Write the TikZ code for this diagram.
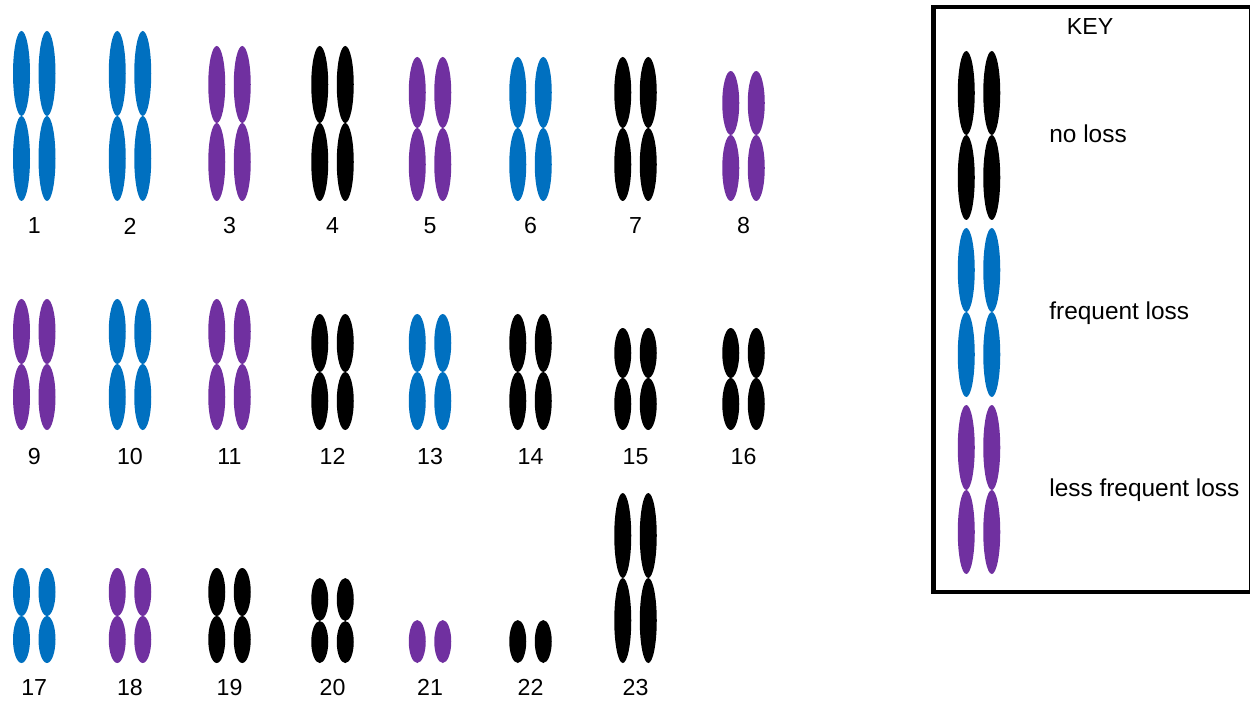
\documentclass[tikz,border=0pt]{standalone}
\usepackage{fontspec}
\setmainfont{Liberation Sans}

\definecolor{lossblue}{HTML}{0070C0}
\definecolor{losspurple}{HTML}{7030A0}

% one chromosome pair: centre x, top, centromere, bottom, colour
\newcommand{\chrom}[5]{%
  \foreach \dx in {-12.75,12.75}{
    \fill[#5] ({#1+\dx},{(#2+#3)/2}) ellipse [x radius=8.5, y radius={(#3-#2)/2}];
    \fill[#5] ({#1+\dx},{(#3+#4)/2}) ellipse [x radius=8.5, y radius={(#4-#3)/2}];
  }}

\begin{document}
\begin{tikzpicture}[
    x=0.02cm, y=-0.02cm,
    num/.style={inner sep=0pt, font=\fontsize{13.2}{15}\selectfont},
    keytext/.style={anchor=mid west, inner sep=0pt, font=\fontsize{13.9}{16}\selectfont}
]
\useasboundingbox (0,0) rectangle (1250,702);

% first row
\foreach \cx/\tp/\cm/\col/\n in {34.25/31/116/lossblue/1, 130/31/116/lossblue/2,
    229.5/46/123/losspurple/3, 332.5/46/123/black/4, 430/57/128/losspurple/5,
    530.5/57/128/lossblue/6, 635.5/57/128/black/7, 743.5/71/135/losspurple/8}{
  \chrom{\cx}{\tp}{\cm}{201}{\col}
  \node[num] (n\n) at (\cx,226) {\n};
}

% second row
\foreach \cx/\tp/\cm/\col/\n in {34.25/299/364/losspurple/9, 130/299/364/lossblue/10,
    229.5/299/364/losspurple/11, 332.5/314/372/black/12, 430/314/372/lossblue/13,
    530.5/314/372/black/14, 635.5/328/378/black/15, 743.5/328/378/black/16}{
  \chrom{\cx}{\tp}{\cm}{430}{\col}
  \node[num] (n\n) at (\cx,456.5) {\n};
}

% third row
\foreach \cx/\tp/\cm/\col/\n in {34.25/568/616/lossblue/17, 130/568/616/losspurple/18,
    229.5/568/616/black/19, 332.5/578/621/black/20, 635.5/493/578/black/23}{
  \chrom{\cx}{\tp}{\cm}{663}{\col}
  \node[num] (n\n) at (\cx,687.5) {\n};
}
\foreach \dx in {-12.75,12.75}{
  \fill[losspurple] ({430+\dx},641.5) ellipse [x radius=8.5, y radius=21.5];
  \fill[black] ({530.5+\dx},641.5) ellipse [x radius=8.5, y radius=21.5];
}
\node[num] (n21) at (430,687.5) {21};
\node[num] (n22) at (530.5,687.5) {22};

% key
\draw[line width=2.3pt] (933.5,7) rectangle (1251,592);
\node[num] (key) at (1090,26.5) {KEY};
\chrom{979}{51}{135}{220}{black}
\chrom{979}{228}{312}{397}{lossblue}
\chrom{979}{405}{490}{574}{losspurple}
\node[keytext] (noloss) at (1049,138) {no loss};
\node[keytext] (freq) at (1049,315) {frequent loss};
\node[keytext] (lessfreq) at (1049,492) {less frequent loss};
\end{tikzpicture}
\end{document}
